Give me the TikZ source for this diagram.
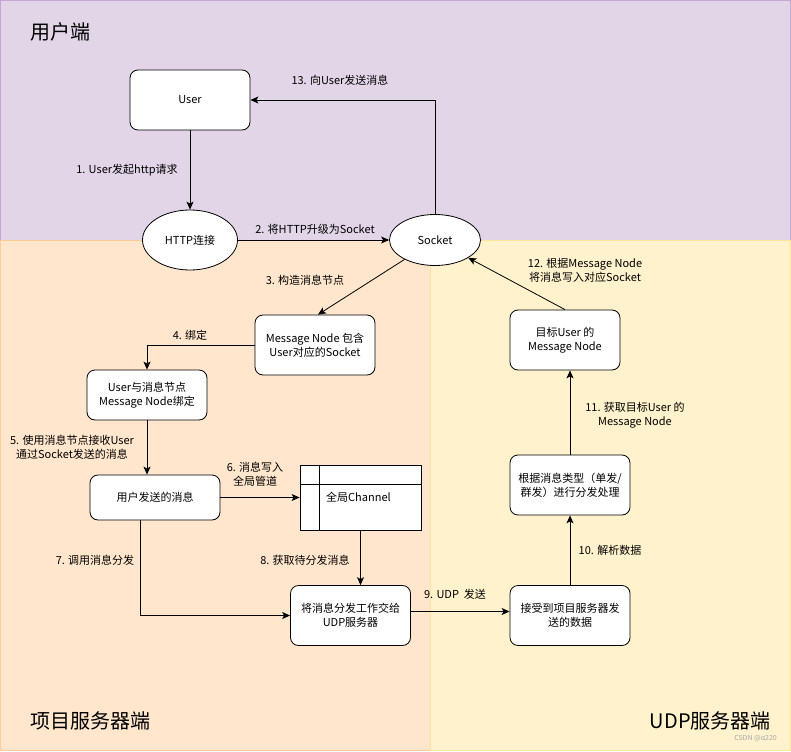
\documentclass[tikz,border=0pt]{standalone}
\usepackage{fontspec}
\setmainfont{Noto Sans CJK SC}
\usetikzlibrary{arrows.meta,shapes.geometric,positioning,calc}
\definecolor{purpfill}{HTML}{E1D5E7}
\definecolor{purpline}{HTML}{C3A6D6}
\definecolor{peachfill}{HTML}{FFE6CC}
\definecolor{peachline}{HTML}{FFCC99}
\definecolor{yelfill}{HTML}{FFF2CC}
\definecolor{yelline}{HTML}{FFE599}
\tikzset{
  box/.style={draw=black,fill=white,rounded corners=8pt,line width=0.8pt,align=center,inner sep=0pt,font=\fontsize{11}{14}\selectfont},
  oval/.style={draw=black,fill=white,ellipse,line width=0.8pt,inner sep=0pt,font=\fontsize{11}{14}\selectfont},
  lbl/.style={align=center,inner sep=0pt,font=\fontsize{11}{14}\selectfont},
  title/.style={inner sep=0pt,font=\fontsize{20}{24}\selectfont},
  arr/.style={line width=0.8pt,-{Stealth[length=8pt,width=7pt,inset=2pt]}},
}
\begin{document}
\begin{tikzpicture}[x=1pt,y=-1pt]
\useasboundingbox (0,0) rectangle (791,751);
% regions
\draw[fill=purpfill,draw=purpline,line width=1pt] (0.5,0.5) rectangle (790,240);
\draw[fill=peachfill,draw=peachline,line width=1pt] (0.5,240) rectangle (430,750.5);
\draw[fill=yelfill,draw=yelline,line width=1pt] (430,240) rectangle (790,750.5);
\node[title,anchor=west] (t1) at (30,32) {用户端};
\node[title,anchor=west] (t2) at (30,721) {项目服务器端};
\node[title,anchor=east] (t3) at (771,721) {UDP服务器端};
\node[inner sep=0pt,text=gray!70,font=\fontsize{7}{8}\selectfont,anchor=east] (wm) at (777,738) {CSDN @α220};
% nodes
\node[box,minimum width=120pt,minimum height=60pt] (user) at (190,100) {User};
\node[oval,minimum width=95pt,minimum height=60pt] (http) at (190,240) {HTTP连接};
\node[oval,minimum width=91pt,minimum height=51pt] (sock) at (435,240) {Socket};
\node[box,minimum width=120pt,minimum height=60pt] (mn) at (315,345) {Message Node 包含\\User对应的Socket};
\node[box,minimum width=120pt,minimum height=50pt] (bind) at (147,395) {User与消息节点\\Message Node绑定};
\node[box,minimum width=130pt,minimum height=45pt] (umsg) at (155,497.5) {用户发送的消息};
\node[draw=black,fill=white,line width=0.8pt,minimum width=121pt,minimum height=65pt,inner sep=0pt] (chan) at (360.5,497.5) {};
\draw[line width=0.8pt] ($(chan.north west)+(20,0)$) -- ($(chan.south west)+(20,0)$);
\draw[line width=0.8pt] ($(chan.north west)+(0,20)$) -- ($(chan.north east)+(0,20)$);
\node[lbl,anchor=west] (chant) at (326,497) {全局Channel};
\node[box,minimum width=120pt,minimum height=60pt] (disp) at (350.5,615.5) {将消息分发工作交给\\UDP服务器};
\node[box,minimum width=120pt,minimum height=60pt] (recv) at (570,615.5) {接受到项目服务器发\\送的数据};
\node[box,minimum width=120pt,minimum height=60pt] (proc) at (570,485) {根据消息类型（单发/\\群发）进行分发处理};
\node[box,minimum width=110pt,minimum height=60pt] (tgt) at (565,340) {目标User 的\\Message Node};
% edges
\draw[arr] (user) -- (http);
\node[lbl] (l1) at (127,170) {1. User发起http请求};
\draw[arr] (http) -- (sock);
\node[lbl] (l2) at (315,229) {2. 将HTTP升级为Socket};
\draw[arr] (sock) -- ($(mn.north)+(3,0)$);
\node[lbl] (l3) at (305,280) {3. 构造消息节点};
\draw[arr] (mn.west) -| (bind.north);
\node[lbl] (l4) at (190,335) {4. 绑定};
\draw[arr] (bind.south) -- (bind.south |- umsg.north);
\node[lbl] (l5) at (72,447) {5. 使用消息节点接收User\\通过Socket发送的消息};
\draw[arr] (umsg.east) -- (umsg.east -| chan.west);
\node[lbl] (l6) at (255,474) {6. 消息写入\\全局管道};
\draw[arr] ($(umsg.south)+(-15,0)$) |- (disp.west);
\node[lbl] (l7) at (95,560) {7. 调用消息分发};
\draw[arr] (chan.south) -- (chan.south |- disp.north);
\node[lbl] (l8) at (305,560) {8. 获取待分发消息};
\draw[arr] ($(disp.east)+(0,-4)$) -- ($(recv.west)+(0,-4)$);
\node[lbl] (l9) at (455,594) {9. UDP\ \ 发送};
\draw[arr] (recv.north) -- (proc.south);
\node[lbl] (l10) at (610,550) {10. 解析数据};
\draw[arr] (proc.north) -- (proc.north |- tgt.south);
\node[lbl] (l11) at (635,415) {11. 获取目标User 的\\Message Node};
\draw[arr] (tgt.north) -- (sock);
\node[lbl] (l12) at (585,270) {12. 根据Message Node\\将消息写入对应Socket};
\draw[arr] (sock.north) |- (user.east);
\node[lbl] (l13) at (340,80) {13. 向User发送消息};
\end{tikzpicture}
\end{document}
